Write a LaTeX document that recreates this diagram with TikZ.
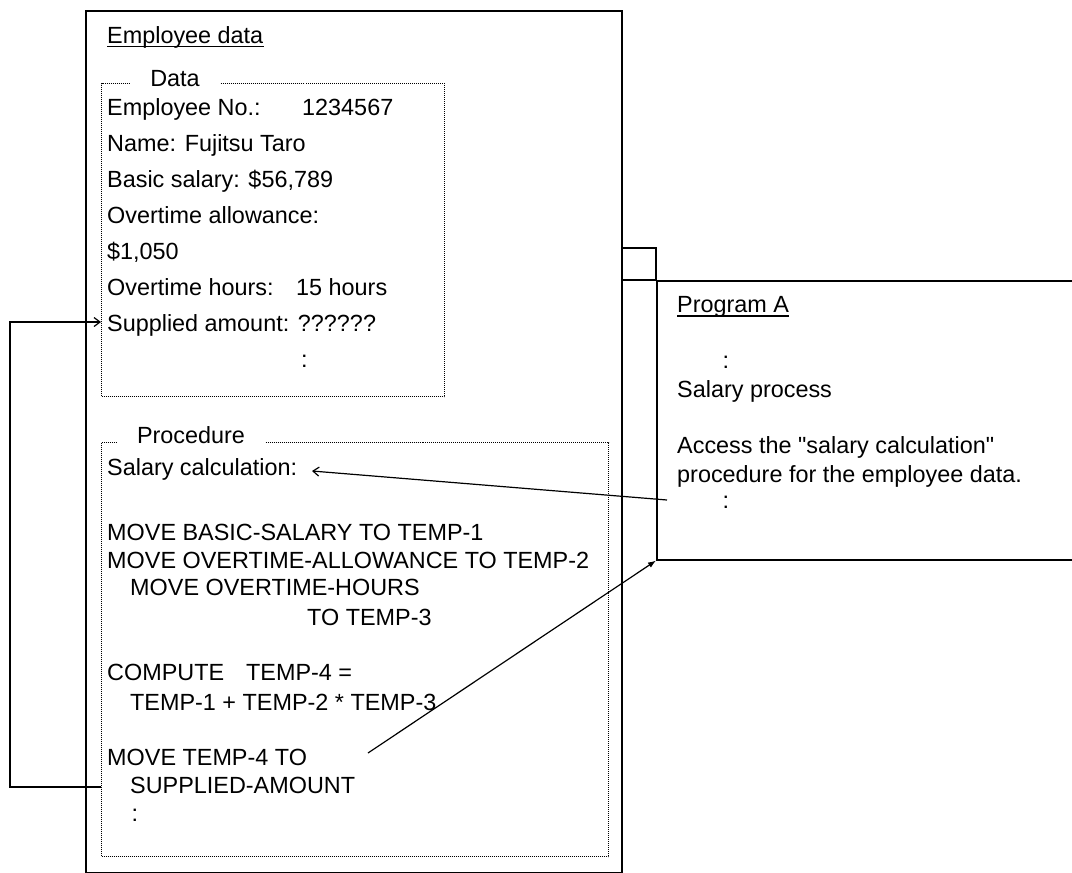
\documentclass[tikz,border=0pt]{standalone}
\usepackage{fontspec}
\setmainfont{Liberation Sans}[Ligatures=TeXOff]
\usetikzlibrary{arrows.meta,positioning}
\tikzset{
  lbl/.style={anchor=base west, inner sep=0pt, font=\fontsize{23.4}{28}\selectfont},
  boxlbl/.style={lbl, anchor=base, fill=white, inner xsep=20pt, inner ysep=3pt},
  solidbox/.style={draw, line width=1.6pt, anchor=north west, inner sep=0pt},
  dotbox/.style={draw, line width=1pt, dash pattern=on 1pt off 1pt, anchor=north west, inner sep=0pt},
  conn/.style={line width=1.2pt},
  progline/.style={line width=1.6pt},
  barbarr/.style={conn, -{Straight Barb[length=6pt,width=9pt]}},
  headarr/.style={conn, -{Latex[length=8pt,width=6pt]}},
}
\begin{document}
\begin{tikzpicture}[x=1pt, y=-1pt]
  \useasboundingbox (0,0) rectangle (1072,873);
  % employee data object
  \node[solidbox, minimum width=536pt, minimum height=862pt] (empbox) at (85,10) {};
  \node[lbl] (emptitle) at (107,43) {Employee data};
  \draw[conn] ([yshift=-3.5pt]emptitle.base west) -- ([yshift=-3.5pt]emptitle.base east);
  \node[dotbox, minimum width=343pt, minimum height=313pt] (databox) at (101,83) {};
  \node[dotbox, minimum width=507pt, minimum height=414pt] (procbox) at (101,442) {};
  \node[boxlbl] (datalbl) at (175,86) {Data};
  \node[boxlbl] (proclbl) at (191,443) {Procedure};
  % data items
  \node[lbl] (empno) at (107,115) {Employee No.:};
  \node[lbl] (empnoval) at (302,115) {1234567};
  \node[lbl] (name) at (107,151) {Name: Fujitsu Taro};
  \node[lbl] (basic) at (107,187) {Basic salary: \$56,789};
  \node[lbl] (otallow) at (107,223) {Overtime allowance:};
  \node[lbl] (otallowval) at (107,259) {\$1,050};
  \node[lbl] (othours) at (107,295) {Overtime hours:};
  \node[lbl] (othoursval) at (296,295) {15 hours};
  \node[lbl] (supamt) at (107,331) {Supplied amount: ??????};
  \node[lbl] (datamore) at (301,367) {:};
  % procedure lines
  \node[lbl] (salcalc) at (107,475) {Salary calculation:};
  \node[lbl] (mvbasic) at (107,540) {MOVE BASIC-SALARY TO TEMP-1};
  \node[lbl] (mvallow) at (107,568) {MOVE OVERTIME-ALLOWANCE TO TEMP-2};
  \node[lbl] (mvhours) at (130,595) {MOVE OVERTIME-HOURS};
  \node[lbl] (mvhoursto) at (307,625) {TO TEMP-3};
  \node[lbl] (compute) at (107,680) {COMPUTE};
  \node[lbl] (computeto) at (246,680) {TEMP-4 =};
  \node[lbl] (formula) at (130,710) {TEMP-1 + TEMP-2 * TEMP-3};
  \node[lbl] (mvsup) at (107,765) {MOVE TEMP-4 TO};
  \node[lbl] (mvsupto) at (130,793) {SUPPLIED-AMOUNT};
  \node[lbl] (procmore) at (131.5,821) {:};
  % program A
  \node[solidbox, minimum width=430pt, minimum height=279pt] (proga) at (656,280) {};
  \draw[progline] (empbox.east |- 0,248) -| (proga.north west);
  \draw[progline] (empbox.east |- 0,280) -- (proga.north west);
  \node[lbl] (progtitle) at (677,312) {Program A};
  \draw[conn] ([yshift=-4pt]progtitle.base west) -- ([yshift=-4pt]progtitle.base east);
  \node[lbl] (progmore) at (722.5,368) {:};
  \node[lbl] (salproc) at (677,397) {Salary process};
  \node[lbl] (access) at (677,453) {Access the "salary calculation"};
  \node[lbl] (accessb) at (677,482) {procedure for the employee data.};
  \node[lbl] (progend) at (722.5,508) {:};
  % connectors
  \coordinate (callpt) at (667,500);
  \coordinate (calltip) at (312,471);
  \coordinate (retpt) at (368,753);
  \draw[barbarr] (callpt) -- (calltip);
  \draw[headarr] (retpt) -- (proga.south west);
  \draw[barbarr] (procbox.west |- 0,787) -- (10,787) |- (databox.west |- 0,322);
\end{tikzpicture}
\end{document}
